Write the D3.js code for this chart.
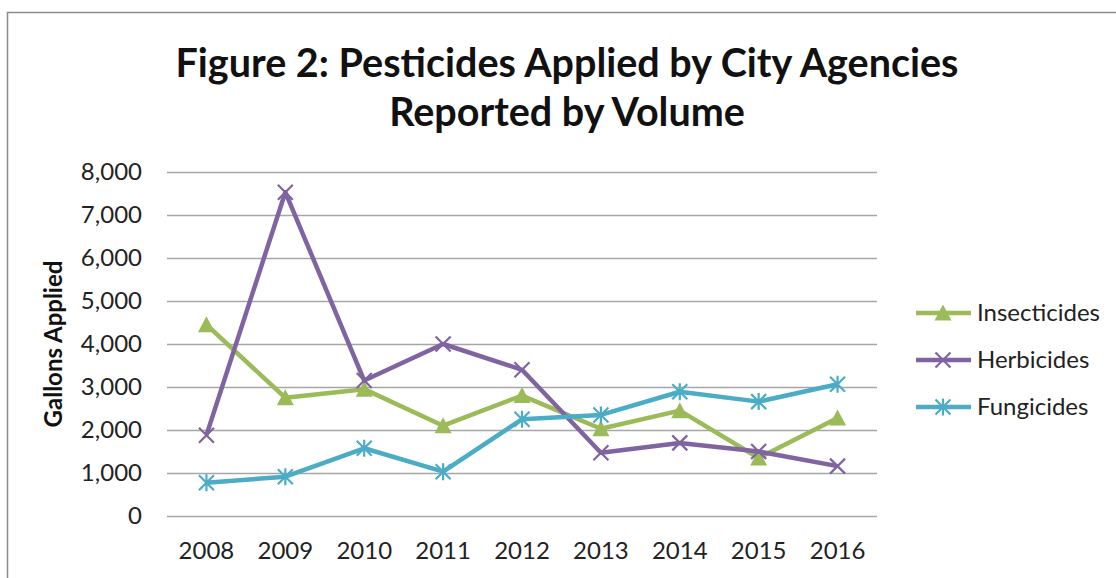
<!DOCTYPE html>
<html>
<head>
<meta charset="utf-8">
<script src="https://cdn.jsdelivr.net/npm/d3@7"></script>
<style>
  html, body { margin: 0; padding: 0; background: #fff; }
  svg { display: block; font-family: Lato, "Open Sans", sans-serif; }
</style>
</head>
<body>
<div id="chart"></div>
<script>
// Figure 2 — pesticides by volume, three series over 2008–2016

const years        = ['2008', '2009', '2010', '2011', '2012', '2013', '2014', '2015', '2016'];
const insecticides = [4450, 2750, 2950, 2100, 2800, 2030, 2450, 1350, 2280];
const herbicides   = [1880, 7530, 3150, 4000, 3400, 1470, 1700, 1500, 1160];
const fungicides   = [775, 915, 1575, 1030, 2250, 2350, 2890, 2660, 3065];
const yTickValues  = [0, 1000, 2000, 3000, 4000, 5000, 6000, 7000, 8000];

const titleLines = ['Figure 2: Pesticides Applied by City Agencies', 'Reported by Volume'];
const yTitle     = 'Gallons Applied';

const series = [
  { name: 'Insecticides', color: '#9bbb59', marker: 'triangle', values: insecticides },
  { name: 'Herbicides',   color: '#8064a2', marker: 'x',        values: herbicides },
  { name: 'Fungicides',   color: '#4bacc6', marker: 'star',     values: fungicides },
];

const W = 1116, H = 578;
const plot = { left: 167, right: 877, top: 172, bottom: 516 };

const svg = d3.select('#chart').append('svg')
  .attr('width', W)
  .attr('height', H);

// outer chart frame (runs off the right and bottom edges)
svg.append('rect')
  .attr('x', 7.5).attr('y', 12.5)
  .attr('width', W + 20).attr('height', H + 20)
  .attr('fill', 'none')
  .attr('stroke', '#8c8c8c')
  .attr('stroke-width', 1.5);

// title
svg.append('g').attr('class', 'title')
  .selectAll('text')
  .data(titleLines)
  .join('text')
  .attr('x', 567)
  .attr('y', (d, i) => 77 + i * 49)
  .attr('text-anchor', 'middle')
  .attr('font-weight', 700)
  .attr('font-size', 39.5)
  .attr('fill', '#111')
  .text(d => d);

// scales
const x = d3.scaleBand()
  .domain(years)
  .range([plot.left, plot.right]);

const y = d3.scaleLinear()
  .domain([0, 8000])
  .range([plot.bottom, plot.top]);

// grid
svg.append('g').attr('class', 'grid')
  .selectAll('line')
  .data(yTickValues)
  .join('line')
  .attr('x1', plot.left).attr('x2', plot.right)
  .attr('y1', d => Math.round(y(d)) + 0.5)
  .attr('y2', d => Math.round(y(d)) + 0.5)
  .attr('stroke', '#a6a6a6')
  .attr('stroke-width', 1.5);

// y axis (labels only)
const yAxis = d3.axisLeft(y)
  .tickValues(yTickValues)
  .tickFormat(d3.format(','))
  .tickSize(0)
  .tickPadding(25);

svg.append('g')
  .attr('transform', `translate(${plot.left},0)`)
  .call(yAxis)
  .call(g => g.select('.domain').remove())
  .call(g => g.selectAll('text')
    .attr('font-family', 'Lato, sans-serif')
    .attr('font-size', 24)
    .attr('fill', '#222'));

// x axis (labels only)
const xAxis = d3.axisBottom(x).tickSize(0).tickPadding(26);
svg.append('g')
  .attr('transform', `translate(0,${plot.bottom})`)
  .call(xAxis)
  .call(g => g.select('.domain').remove())
  .call(g => g.selectAll('text')
    .attr('font-family', 'Lato, sans-serif')
    .attr('font-size', 24)
    .attr('fill', '#222'));

// y axis title
svg.append('text')
  .attr('transform', `translate(62,${(plot.top + plot.bottom) / 2}) rotate(-90)`)
  .attr('text-anchor', 'middle')
  .attr('font-weight', 700)
  .attr('font-size', 24)
  .attr('fill', '#111')
  .text(yTitle);

// markers
function drawMarker(g, type, color) {
  const s = 7.5;
  if (type === 'triangle') {
    g.append('path')
      .attr('d', `M0,${-s - 1}L${s + 1},${s}L${-s - 1},${s}Z`)
      .attr('fill', color);
  } else if (type === 'x') {
    g.append('path')
      .attr('d', `M${-s},${-s}L${s},${s}M${-s},${s}L${s},${-s}`)
      .attr('stroke', color).attr('stroke-width', 2.2).attr('fill', 'none');
  } else {
    g.append('path')
      .attr('d', `M${-s},${-s}L${s},${s}M${-s},${s}L${s},${-s}M0,${-s - 1}L0,${s + 1}`)
      .attr('stroke', color).attr('stroke-width', 2.2).attr('fill', 'none');
  }
}

const cx = d => x(d) + x.bandwidth() / 2;

const line = d3.line()
  .x(d => cx(d.year))
  .y(d => y(d.value));

const gSeries = svg.append('g').attr('class', 'series');
series.forEach(s => {
  const pts = years.map((yr, i) => ({ year: yr, value: s.values[i] }));
  const g = gSeries.append('g');
  g.append('path')
    .datum(pts)
    .attr('d', line)
    .attr('fill', 'none')
    .attr('stroke', s.color)
    .attr('stroke-width', 4.5)
    .attr('stroke-linejoin', 'round');
  pts.forEach(p => {
    const m = g.append('g').attr('transform', `translate(${cx(p.year)},${y(p.value)})`);
    drawMarker(m, s.marker, s.color);
  });
});

// legend
const legend = svg.append('g')
  .attr('class', 'legend')
  .attr('transform', 'translate(916,313)');

series.forEach((s, i) => {
  const row = legend.append('g').attr('transform', `translate(0,${i * 47})`);
  row.append('line')
    .attr('x1', 0).attr('x2', 55)
    .attr('stroke', s.color)
    .attr('stroke-width', 4.5);
  const m = row.append('g').attr('transform', 'translate(27,0)');
  drawMarker(m, s.marker, s.color);
  row.append('text')
    .attr('x', 61)
    .attr('dy', '0.35em')
    .attr('font-size', 24)
    .attr('fill', '#222')
    .text(s.name);
});
</script>
</body>
</html>
